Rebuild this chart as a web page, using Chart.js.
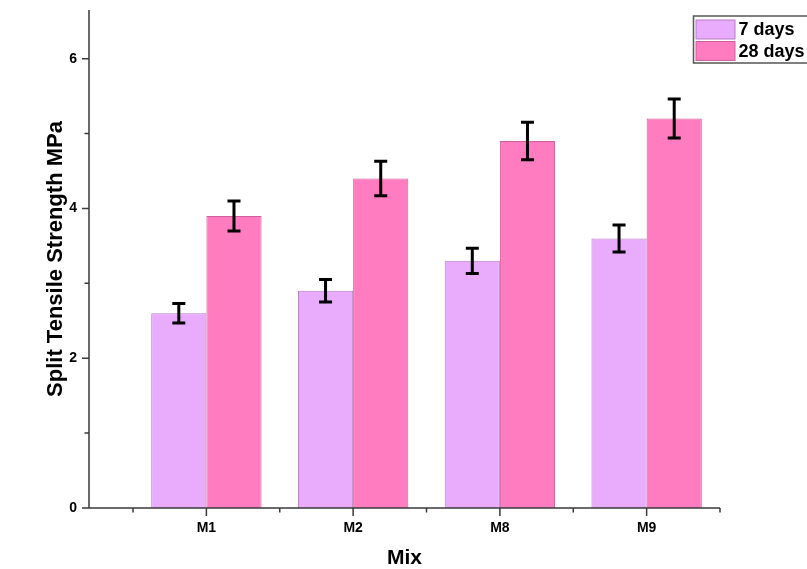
<!DOCTYPE html>
<html>
<head>
<meta charset="utf-8">
<title>Split Tensile Strength by Mix</title>
<script src="https://cdn.jsdelivr.net/npm/chart.js@4/dist/chart.umd.min.js"></script>
<style>
  html, body { margin: 0; padding: 0; background: #ffffff; }
  #wrap { width: 807px; height: 569px; }
</style>
</head>
<body>
<div id="wrap"><canvas id="chart" width="807" height="569"></canvas></div>
<script>
// Mix designs and measured split tensile strength (MPa)
const mixes = ['M1', 'M2', 'M8', 'M9'];
const days7 = [2.6, 2.9, 3.3, 3.6];
const days28 = [3.9, 4.4, 4.9, 5.2];
// Standard deviation of each result (MPa)
const err7 = [0.13, 0.15, 0.17, 0.18];
const err28 = [0.20, 0.23, 0.25, 0.26];
// Y-axis tick values; only the labelled ones show text
const yTicks = [0, 1, 2, 3, 4, 5, 6];
const yLabelled = [0, 2, 4, 6];

const FONT = "'Liberation Sans', Arial, Helvetica, sans-serif";
const AXIS_COLOR = '#3a3a3a';

// x positions of categories are 0..n-1; minor ticks sit halfway between
const xMajor = mixes.map((_, i) => i);
const xMinor = [-0.5].concat(mixes.map((_, i) => i + 0.5));

function toPoints(vals) {
  return vals.map((v, i) => ({ x: i, y: v }));
}

// Draws the error bars of every bar from its dataset's error list
const errorBars = {
  id: 'errorBars',
  afterDatasetsDraw(chart) {
    const { ctx } = chart;
    const yScale = chart.scales.y;
    chart.data.datasets.forEach((ds, di) => {
      const meta = chart.getDatasetMeta(di);
      meta.data.forEach((bar, i) => {
        const v = ds.data[i].y;
        const e = ds.errors[i];
        const yTop = yScale.getPixelForValue(v + e);
        const yBot = yScale.getPixelForValue(v - e);
        const cap = 6.5;
        ctx.save();
        ctx.strokeStyle = '#000000';
        ctx.lineWidth = 3;
        ctx.lineCap = 'butt';
        ctx.beginPath();
        ctx.moveTo(bar.x, yTop);
        ctx.lineTo(bar.x, yBot);
        ctx.moveTo(bar.x - cap, yTop);
        ctx.lineTo(bar.x + cap, yTop);
        ctx.moveTo(bar.x - cap, yBot);
        ctx.lineTo(bar.x + cap, yBot);
        ctx.stroke();
        ctx.restore();
      });
    });
  }
};

// Axis lines with outward major and minor tick marks
const axisTicks = {
  id: 'axisTicks',
  afterDraw(chart) {
    const { ctx, chartArea } = chart;
    const xs = chart.scales.x, ys = chart.scales.y;
    ctx.save();
    ctx.strokeStyle = AXIS_COLOR;
    ctx.lineWidth = 1.5;
    ctx.beginPath();
    // axis lines
    ctx.moveTo(chartArea.left, chartArea.top);
    ctx.lineTo(chartArea.left, chartArea.bottom);
    ctx.moveTo(chartArea.left, chartArea.bottom);
    ctx.lineTo(chartArea.right, chartArea.bottom);
    // y ticks
    yTicks.forEach(v => {
      const y = ys.getPixelForValue(v);
      const len = yLabelled.includes(v) ? 7 : 4.5;
      ctx.moveTo(chartArea.left, y);
      ctx.lineTo(chartArea.left - len, y);
    });
    // x ticks
    xMajor.forEach(v => {
      const x = xs.getPixelForValue(v);
      ctx.moveTo(x, chartArea.bottom);
      ctx.lineTo(x, chartArea.bottom + 8);
    });
    xMinor.forEach(v => {
      const x = xs.getPixelForValue(v);
      ctx.moveTo(x, chartArea.bottom);
      ctx.lineTo(x, chartArea.bottom + 4.5);
    });
    ctx.stroke();
    ctx.restore();
  }
};

// Boxed legend in the upper right corner
const boxLegend = {
  id: 'boxLegend',
  afterDraw(chart) {
    const { ctx } = chart;
    const left = 693.5, top = 16, rowH = 21.5, boxW = 39, boxH = 19;
    ctx.save();
    ctx.strokeStyle = '#555555';
    ctx.lineWidth = 1.5;
    ctx.strokeRect(left, top, 130, 47);
    ctx.font = 'bold 18px ' + FONT;
    ctx.textBaseline = 'middle';
    ctx.textAlign = 'left';
    chart.data.datasets.forEach((ds, i) => {
      const y = top + 4 + i * rowH;
      ctx.fillStyle = ds.backgroundColor;
      ctx.fillRect(left + 2.5, y, boxW, boxH);
      ctx.strokeStyle = ds.borderColor;
      ctx.lineWidth = 1;
      ctx.strokeRect(left + 2.5, y, boxW, boxH);
      ctx.fillStyle = '#000000';
      ctx.fillText(ds.label, left + 45, y + boxH / 2 + 1);
    });
    ctx.restore();
  }
};

new Chart(document.getElementById('chart'), {
  type: 'bar',
  data: {
    datasets: [
      {
        label: '7 days',
        data: toPoints(days7),
        errors: err7,
        backgroundColor: '#E9ABFC',
        borderColor: '#B77DC4',
        borderWidth: 1
      },
      {
        label: '28 days',
        data: toPoints(days28),
        errors: err28,
        backgroundColor: '#FF7CC0',
        borderColor: '#CF5E9C',
        borderWidth: 1
      }
    ]
  },
  options: {
    responsive: false,
    animation: false,
    devicePixelRatio: 1,
    events: [],
    layout: { padding: { left: 0, top: 10, right: 87, bottom: 0 } },
    datasets: { bar: { categoryPercentage: 0.752, barPercentage: 1.0 } },
    plugins: {
      legend: { display: false },
      tooltip: { enabled: false }
    },
    scales: {
      x: {
        type: 'linear',
        offset: false,
        min: -0.8,
        max: 3.5,
        afterBuildTicks(scale) {
          scale.ticks = xMajor.map(v => ({ value: v }));
        },
        afterFit(scale) {
          scale.height = 61;
          scale.paddingLeft = 0;
          scale.paddingRight = 0;
        },
        grid: { display: false, drawTicks: false, offset: false },
        border: { display: false },
        ticks: {
          padding: 12,
          color: '#000000',
          font: { family: FONT, size: 14, weight: 'bold' },
          callback: (v) => mixes[v],
          maxRotation: 0,
          autoSkip: false
        },
        title: {
          display: true,
          text: 'Mix',
          color: '#000000',
          font: { family: FONT, size: 21, weight: 'bold', lineHeight: 1.0 },
          padding: { top: 0, bottom: 0 }
        }
      },
      y: {
        type: 'linear',
        min: 0,
        max: 6.65,
        afterBuildTicks(scale) {
          scale.ticks = yLabelled.map(v => ({ value: v }));
        },
        afterFit(scale) {
          scale.width = 89;
          scale.paddingTop = 0;
          scale.paddingBottom = 0;
        },
        grid: { display: false, drawTicks: false },
        border: { display: false },
        ticks: {
          padding: 12,
          color: '#000000',
          font: { family: FONT, size: 14, weight: 'bold' }
        },
        title: {
          display: true,
          text: 'Split Tensile Strength MPa',
          color: '#000000',
          font: { family: FONT, size: 22, weight: 'bold' },
          padding: { top: 43, bottom: 0 }
        }
      }
    }
  },
  plugins: [errorBars, axisTicks, boxLegend]
});
</script>
</body>
</html>
